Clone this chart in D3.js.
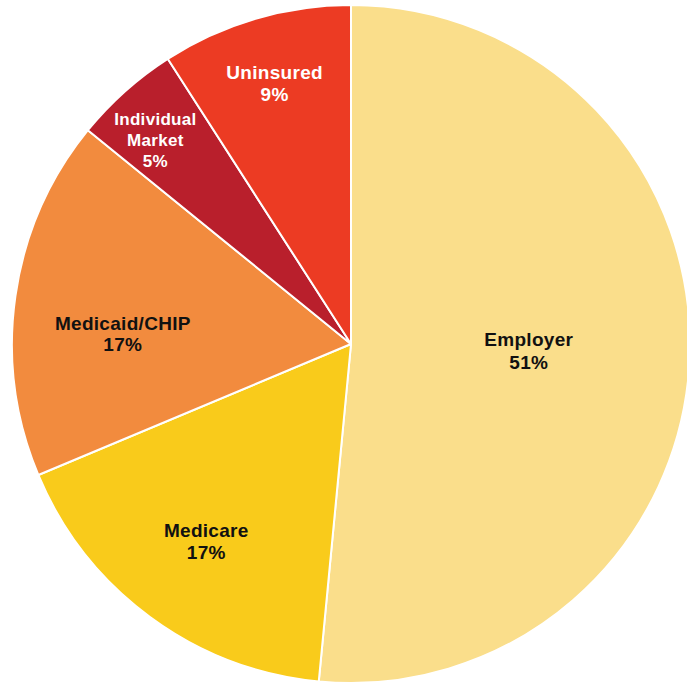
<!DOCTYPE html>
<html>
<head>
<meta charset="utf-8">
<script src="https://cdn.jsdelivr.net/npm/d3@7"></script>
<style>
  html, body { margin: 0; padding: 0; background: #ffffff; }
  svg { display: block; }
  text { font-family: "Liberation Sans", Arial, sans-serif; font-weight: 700; }
</style>
</head>
<body>
<svg id="chart" width="687" height="683"></svg>
<script>
// Health insurance coverage by source
const categories = ["Employer", "Medicare", "Medicaid/CHIP", "Individual Market", "Uninsured"];
const shares = [51, 17, 17, 5, 9];
const labelLines = [["Employer"], ["Medicare"], ["Medicaid/CHIP"], ["Individual", "Market"], ["Uninsured"]];

const colors = ["#FADE8B", "#F9CB1B", "#F28B3E", "#B91F2C", "#EC3B23"];
const textColors = ["#111111", "#111111", "#111111", "#ffffff", "#ffffff"];
// label placement: radius fraction plus a small hand nudge (dx, dy)
const labelRadius = [0.525, 0.72, 0.68, 0.83, 0.80];
const labelNudgeX = [0, 0, 0, -8, 0];
const labelNudgeY = [-1, 1, 23, 6, 0];
const fontSizes = [19, 19, 19, 17, 19];
const lineHeights = [23, 22, 21, 21, 22];

const cx = 351, cy = 344, radius = 339;

const svg = d3.select("#chart");
const g = svg.append("g").attr("transform", `translate(${cx},${cy})`);

const pie = d3.pie().sort(null).value(d => d.value);
const data = categories.map((c, i) => ({ name: c, value: shares[i], i }));
const arcs = pie(data);

const arc = d3.arc().innerRadius(0).outerRadius(radius);

g.selectAll("path.slice")
  .data(arcs)
  .join("path")
  .attr("class", "slice")
  .attr("d", arc)
  .attr("fill", d => colors[d.data.i])
  .attr("stroke", "#ffffff")
  .attr("stroke-width", 2)
  .attr("stroke-linejoin", "round");

const labels = g.selectAll("g.label")
  .data(arcs)
  .join("g")
  .attr("class", "label")
  .attr("transform", d => {
    const i = d.data.i;
    const r = radius * labelRadius[i];
    const c = d3.arc().innerRadius(r).outerRadius(r).centroid(d);
    return `translate(${c[0] + labelNudgeX[i]},${c[1] + labelNudgeY[i]})`;
  });

labels.each(function(d) {
  const i = d.data.i;
  const lines = labelLines[i].concat([d.data.value + "%"]);
  const lh = lineHeights[i];
  const top = -(lines.length - 1) * lh / 2;
  d3.select(this).selectAll("text")
    .data(lines)
    .join("text")
    .attr("text-anchor", "middle")
    .attr("dominant-baseline", "central")
    .attr("y", (t, k) => top + k * lh)
    .attr("fill", textColors[i])
    .attr("font-size", fontSizes[i])
    .attr("letter-spacing", 0.3)
    .text(t => t);
});
</script>
</body>
</html>
